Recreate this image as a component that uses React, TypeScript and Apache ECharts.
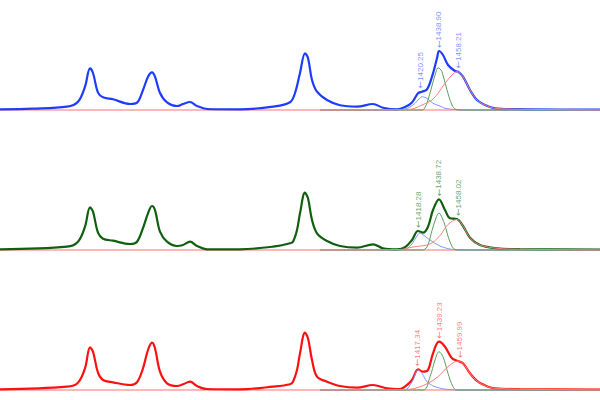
import React, { useEffect, useRef } from "react";
import * as echarts from "echarts";

// ---- Data: [wavenumber, intensity above baseline] ----
const blueMain: number[][] = [
  [1000, 0.7], [1033, 1.3], [1067, 3.3], [1078, 8.3], [1085, 23.3], [1090, 41.7], [1093, 37],
  [1098, 17.3], [1103, 12.7], [1113, 10.7], [1130, 6], [1137, 7.3], [1143, 20], [1148, 33.3],
  [1152, 37.7], [1155, 33.3], [1160, 17], [1167, 7.7], [1177, 4], [1183, 6], [1190, 8],
  [1197, 4], [1207, 1], [1240, 0.7], [1273, 3.3], [1290, 7.7], [1295, 17], [1300, 37],
  [1305, 56.7], [1308, 52], [1312, 30], [1317, 18.3], [1327, 10], [1340, 4.7], [1357, 3.3],
  [1373, 6], [1383, 2.3], [1397, 0.7], [1405, 3], [1412, 7.5], [1418, 16.7], [1422, 18.3],
  [1427, 20.7], [1432, 33.3], [1437, 51.7], [1439, 59], [1443, 55], [1448, 45], [1455, 39],
  [1458, 38.3], [1463, 33.3], [1470, 20], [1477, 10], [1485, 5], [1495, 1.7], [1520, 0.8],
  [1560, 0.5], [1600, 0.5],
];
const blueCompA: number[][] = [
  [1320, 0], [1395, 0], [1405, 1], [1410, 3], [1415, 6.7], [1419, 11], [1422, 13.3],
  [1425, 12.5], [1427, 11.7], [1433, 6.7], [1440, 4], [1445, 1.7], [1455, 0.5], [1470, 0], [1600, 0],
];
const blueCompB: number[][] = [
  [1320, 0], [1420, 0], [1424, 1], [1428, 10], [1433, 28], [1436, 38], [1438, 42.3],
  [1440, 41], [1442, 38.3], [1447, 20], [1452, 5], [1456, 0.5], [1460, 0], [1600, 0],
];
const blueCompC: number[][] = [
  [1320, 0], [1400, 0.3], [1412, 1], [1422, 5], [1432, 10], [1438, 16.7], [1445, 26.7],
  [1452, 35], [1457, 38.3], [1463, 33.3], [1470, 20], [1477, 10], [1485, 5], [1495, 1.7],
  [1520, 0.8], [1560, 0.3], [1600, 0],
];

const greenMain: number[][] = [
  [1000, 0.7], [1067, 3.3], [1078, 8.3], [1085, 23.3], [1090, 42.7], [1093, 38.3], [1098, 17.3],
  [1103, 11.3], [1113, 9.3], [1130, 6], [1137, 8.3], [1143, 22], [1148, 36.7], [1152, 44],
  [1155, 40], [1160, 18.3], [1167, 8.3], [1177, 4], [1183, 5], [1190, 8.3], [1197, 4],
  [1207, 0.7], [1240, 0.7], [1273, 3.3], [1290, 6.7], [1293, 8.3], [1297, 20], [1300, 36.7],
  [1305, 57.3], [1308, 51.7], [1312, 30], [1317, 16.7], [1327, 9], [1340, 4], [1357, 2.3],
  [1373, 5.7], [1383, 1.7], [1397, 0.7], [1405, 2.7], [1412, 10], [1418, 19], [1423, 17.3],
  [1428, 23.3], [1433, 40], [1439, 50.7], [1445, 40], [1450, 31.7], [1457, 31], [1463, 24],
  [1470, 12.3], [1480, 5], [1497, 1.7], [1520, 0.8], [1600, 0.5],
];
const greenCompA: number[][] = [
  [1320, 0], [1400, 0], [1407, 1.5], [1412, 6], [1416, 12.5], [1420, 17], [1424, 14.5],
  [1430, 10], [1440, 4], [1453, 0.5], [1465, 0], [1600, 0],
];
const greenCompB: number[][] = [
  [1320, 0], [1422, 0], [1427, 3], [1432, 19.5], [1436, 32], [1439, 37], [1442, 32.5],
  [1445, 24.5], [1450, 8], [1455, 0.5], [1460, 0], [1600, 0],
];
const greenCompC: number[][] = [
  [1320, 0], [1400, 0.5], [1413, 3], [1430, 6], [1440, 14.5], [1448, 25.5], [1457, 30.5],
  [1463, 24], [1470, 12.3], [1480, 5], [1497, 1.7], [1520, 0.8], [1600, 0],
];

const redMain: number[][] = [
  [1000, 0.7], [1067, 3.3], [1078, 7.3], [1085, 21.7], [1090, 42.7], [1093, 38.3], [1098, 17.3],
  [1103, 10], [1113, 7.7], [1130, 5], [1137, 7.7], [1143, 21.7], [1148, 40], [1152, 47.3],
  [1155, 41.7], [1160, 18.3], [1167, 6.7], [1177, 4], [1183, 5.7], [1190, 8.3], [1197, 4],
  [1207, 1], [1240, 0.7], [1273, 3.3], [1290, 5.7], [1293, 8.3], [1297, 20], [1300, 36.7],
  [1305, 57.3], [1308, 51.7], [1312, 30], [1317, 13.3], [1327, 8.3], [1340, 4], [1357, 2.3],
  [1373, 5], [1387, 1.7], [1400, 1], [1405, 3.3], [1412, 10], [1418, 20.7], [1423, 18.3],
  [1428, 20], [1433, 36.7], [1439, 48.3], [1445, 43.3], [1452, 31.7], [1458, 29], [1463, 26.7],
  [1470, 16.7], [1478, 8.3], [1488, 3.3], [1495, 1.7], [1520, 0.8], [1600, 0.5],
];
const redCompA: number[][] = [
  [1320, 0], [1400, 0], [1405, 0.5], [1408, 2], [1413, 10], [1418, 20], [1422, 16.7],
  [1427, 8.3], [1435, 3.3], [1448, 0.5], [1460, 0], [1600, 0],
];
const redCompB: number[][] = [
  [1320, 0], [1423, 0], [1430, 13.3], [1435, 30], [1439, 38.3], [1443, 33.3], [1448, 16.7],
  [1453, 3.3], [1457, 0], [1600, 0],
];
const redCompC: number[][] = [
  [1320, 0], [1405, 0.5], [1415, 1.7], [1428, 6.7], [1438, 13.3], [1448, 23.3], [1458, 29],
  [1463, 26.7], [1470, 16.7], [1478, 8.3], [1488, 3.3], [1495, 1.7], [1520, 0.8], [1600, 0],
];

// Peak labels: [wavenumber, intensity at label anchor]
const bluePeaks: number[][] = [[1420.25, 18.5], [1438.9, 59], [1458.21, 38.5]];
const greenPeaks: number[][] = [[1418.28, 19], [1438.72, 50.7], [1458.02, 31]];
const redPeaks: number[][] = [[1417.34, 20.7], [1439.23, 48.3], [1459.99, 29]];
const baselineX: number[] = [1000, 1600];

// ---- Styling / layout ----
const spectra = [
  { main: blueMain, comps: [blueCompA, blueCompB, blueCompC], peaks: bluePeaks, offset: 290, color: "#1d3cff", labelColor: "#5a76ff" },
  { main: greenMain, comps: [greenCompA, greenCompB, greenCompC], peaks: greenPeaks, offset: 150, color: "#0f5f0f", labelColor: "#3f8c3f" },
  { main: redMain, comps: [redCompA, redCompB, redCompC], peaks: redPeaks, offset: 10, color: "#ff1010", labelColor: "#ff5a5a" },
];
const compColors = ["#7f97ff", "#5aa05a", "#ff8080"];

function shift(d: number[][], off: number) {
  return d.map((p) => [p[0], p[1] + off]);
}

export default function App() {
  const ref = useRef<HTMLDivElement>(null);
  useEffect(() => {
    if (!ref.current) return;
    const chart = echarts.init(ref.current, undefined, { renderer: "svg" });
    const series: any[] = [];
    spectra.forEach((s) => {
      series.push({
        type: "line",
        data: baselineX.map((x) => [x, s.offset]),
        symbol: "none",
        silent: true,
        lineStyle: { color: "#ff7070", width: 1 },
        z: 1,
      });
      series.push({
        type: "line",
        data: shift(s.main, s.offset),
        symbol: "none",
        smooth: 0.35,
        silent: true,
        lineStyle: { color: s.color, width: 2.2 },
        z: 2,
      });
      s.comps.forEach((c, i) => {
        series.push({
          type: "line",
          data: shift(c, s.offset),
          symbol: "none",
          smooth: 0.35,
          silent: true,
          lineStyle: { color: compColors[i], width: 1 },
          z: 3,
        });
      });
      series.push({
        type: "scatter",
        data: shift(s.peaks, s.offset),
        symbolSize: 0,
        silent: true,
        z: 4,
        label: {
          show: true,
          position: "top",
          distance: 3,
          rotate: 90,
          align: "left",
          verticalAlign: "middle",
          color: s.labelColor,
          fontSize: 8,
          fontFamily: "Liberation Sans, Arial, sans-serif",
          formatter: (p: any) => "{a|\u2190}" + p.value[0].toFixed(2),
          rich: {
            a: { fontFamily: "DejaVu Sans", fontSize: 9, color: s.labelColor },
          },
        },
      });
    });
    chart.setOption({
      animation: false,
      grid: { left: 0, right: 0, top: 0, bottom: 0 },
      xAxis: { type: "value", min: 1000, max: 1600, show: false },
      yAxis: { type: "value", min: 0, max: 400, show: false },
      series,
    });
    return () => chart.dispose();
  }, []);
  return (
    <div
      ref={ref}
      style={{ position: "fixed", left: 0, top: 0, width: 600, height: 400, background: "#fff" }}
    />
  );
}
